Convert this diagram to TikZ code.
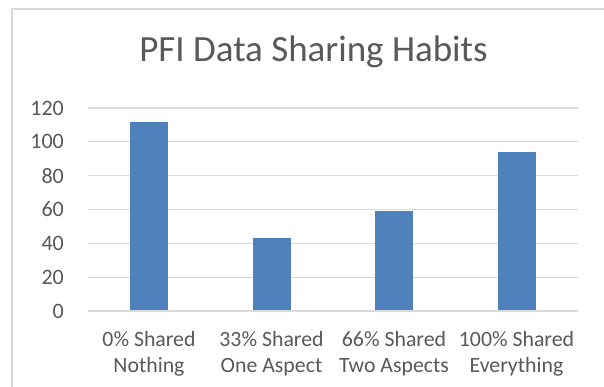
\documentclass[tikz,border=0pt]{standalone}
\usepackage{fontspec}
\setmainfont{Carlito}
\definecolor{pfiText}{HTML}{595959}
\definecolor{pfiGrid}{HTML}{D9D9D9}
\definecolor{pfiBar}{HTML}{4F81BD}
\usetikzlibrary{positioning}

\begin{document}
\begin{tikzpicture}[x=1pt, y=-1pt,
  gridline/.style={draw=pfiGrid, line width=1.1pt},
  ticklabel/.style={anchor=east, inner sep=0pt, text=pfiText, font=\fontsize{22}{26}\selectfont},
  catlabel/.style={anchor=north, inner sep=0pt, align=center, text=pfiText, font=\fontsize{21.8}{26}\selectfont},
  barbox/.style={fill=pfiBar}]
  \useasboundingbox (0,0) rectangle (604,387);
  \fill[white] (0,0) rectangle (604,387);
  \draw[pfiGrid, line width=1.7pt] (12,387) -- (12,9) -- (604,9);
  \node[anchor=base, text=pfiText, font=\fontsize{37}{44}\selectfont] (title) at (313.5,62) {PFI Data Sharing Habits};
  % gridlines and value axis
  \foreach \v [count=\i] in {0,20,...,120} {
    \draw[gridline] (88,{311-1.6917*\v}) -- (578,{311-1.6917*\v});
    \node[ticklabel] (tick\i) at (64,{311-1.6917*\v}) {\v};
  }
  % bars and categories
  \foreach \val/\lbl [count=\i] in {112/{0\% Shared\\Nothing}, 43/{33\% Shared\\One Aspect}, 59/{66\% Shared\\Two Aspects}, 94/{100\% Shared\\Everything}} {
    \pgfmathsetmacro\cx{149+122.5*(\i-1)}
    \fill[barbox] (\cx-19,311) rectangle (\cx+19,{311-1.6917*\val});
    \node[catlabel] (cat\i) at (\cx,331) {\lbl};
  }
  \draw[gridline] (88,311) -- (578,311);
\end{tikzpicture}
\end{document}
